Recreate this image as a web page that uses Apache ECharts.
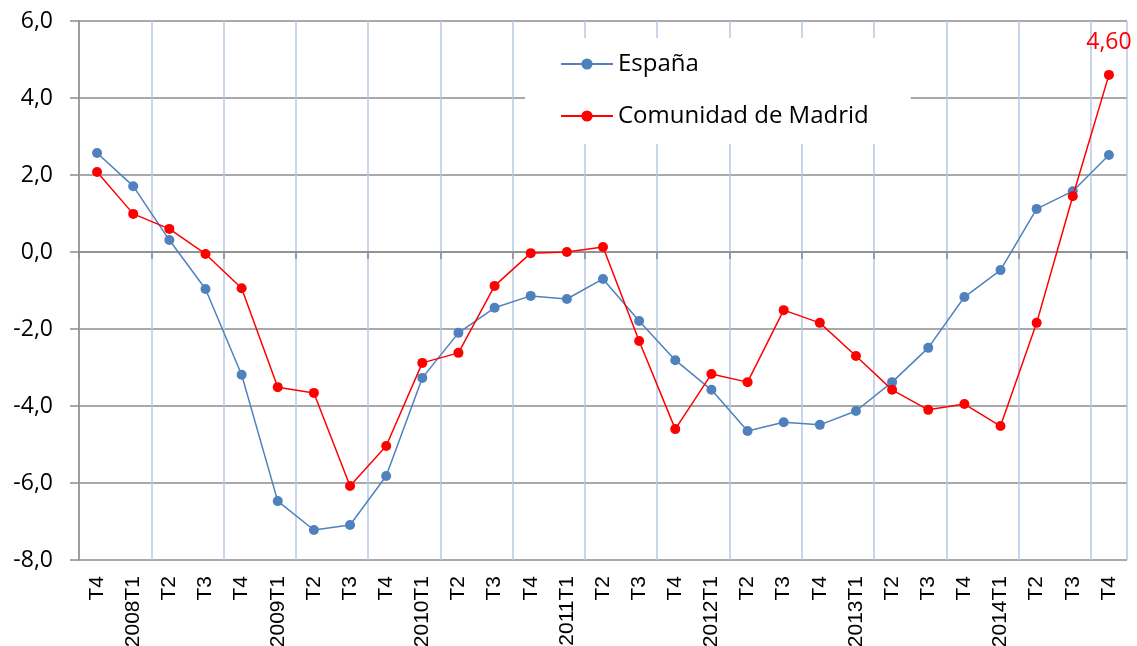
<!DOCTYPE html>
<html>
<head>
<meta charset="utf-8">
<script src="https://cdn.jsdelivr.net/npm/echarts@6/dist/echarts.min.js"></script>
<style>
  html, body { margin: 0; padding: 0; background: #fff; }
  #chart { width: 1137px; height: 646px; }
</style>
</head>
<body>
<div id="chart"></div>
<script>
var categories = ['T4', '2008T1', 'T2', 'T3', 'T4', '2009T1', 'T2', 'T3', 'T4',
  '2010T1', 'T2', 'T3', 'T4', '2011T1', 'T2', 'T3', 'T4', '2012T1', 'T2', 'T3', 'T4',
  '2013T1', 'T2', 'T3', 'T4', '2014T1', 'T2', 'T3', 'T4'];

var espana = [2.57, 1.71, 0.31, -0.96, -3.19, -6.47, -7.22, -7.09, -5.82,
  -3.27, -2.10, -1.45, -1.14, -1.22, -0.70, -1.79, -2.81, -3.58, -4.65, -4.42, -4.49,
  -4.13, -3.38, -2.49, -1.17, -0.47, 1.12, 1.58, 2.52];

var madrid = [2.08, 0.99, 0.60, -0.05, -0.94, -3.51, -3.66, -6.08, -5.04,
  -2.88, -2.62, -0.88, -0.03, 0.00, 0.13, -2.31, -4.60, -3.17, -3.38, -1.51, -1.84,
  -2.70, -3.58, -4.10, -3.95, -4.52, -1.84, 1.45, 4.60];

var seriesNames = ['España', 'Comunidad de Madrid'];

var fmtComma = function(v, d) {
  return v.toFixed(d).replace('.', ',');
};

// only the last Madrid point carries a label
var madridData = madrid.map(function(v, i) {
  if (i === madrid.length - 1) {
    return {
      value: v,
      label: {
        show: true,
        position: 'top',
        distance: 16,
        color: '#ff0000',
        fontFamily: 'Open Sans',
        fontSize: 23,
        formatter: function(p) { return fmtComma(p.value, 2); }
      }
    };
  }
  return v;
});

var myChart = echarts.init(document.getElementById('chart'));

var option = {
  animation: false,
  backgroundColor: '#fff',
  grid: {
    left: 79,
    right: 10,
    top: 21,
    bottom: 86,
    containLabel: false,
    outerBoundsMode: 'none'
  },
  legend: {
    data: seriesNames,
    orient: 'vertical',
    left: 525,
    top: 38,
    backgroundColor: '#fff',
    padding: [12, 42, 14, 35],
    itemGap: 24,
    itemWidth: 52,
    itemHeight: 14,
    textStyle: {
      fontFamily: 'Open Sans',
      fontSize: 24,
      color: '#000',
      lineHeight: 28
    }
  },
  xAxis: {
    type: 'category',
    data: categories,
    boundaryGap: true,
    axisLine: { show: true, lineStyle: { color: '#8c8c8c', width: 1.5 } },
    axisTick: { show: true, interval: 1, length: 7, lineStyle: { color: '#8c8c8c', width: 1.5 } },
    splitLine: { show: true, interval: 1, lineStyle: { color: '#b4c7e7', width: 1.5 } },
    axisLabel: {
      interval: 0,
      rotate: 90,
      margin: 16,
      fontFamily: 'Liberation Sans',
      fontSize: 21,
      color: '#000'
    }
  },
  yAxis: {
    type: 'value',
    min: -8,
    max: 6,
    interval: 2,
    axisLine: { show: true, lineStyle: { color: '#8c8c8c', width: 1.5 } },
    axisTick: { show: true, length: 9, lineStyle: { color: '#8c8c8c', width: 1.5 } },
    splitLine: { show: true, lineStyle: { color: '#8c8c8c', width: 1.5 } },
    axisLabel: {
      margin: 26,
      fontFamily: 'Open Sans',
      fontSize: 23,
      color: '#000',
      formatter: function(v) { return fmtComma(v, 1); }
    }
  },
  series: [
    {
      name: seriesNames[0],
      type: 'line',
      data: espana,
      symbol: 'circle',
      symbolSize: 10,
      color: '#4f81bd',
      lineStyle: { width: 1.5, color: '#4f81bd' },
      itemStyle: { color: '#4f81bd' },
      z: 3
    },
    {
      name: seriesNames[1],
      type: 'line',
      data: madridData,
      symbol: 'circle',
      symbolSize: 10,
      color: '#ff0000',
      lineStyle: { width: 1.5, color: '#ff0000' },
      itemStyle: { color: '#ff0000' },
      z: 4
    }
  ]
};

myChart.setOption(option);
</script>
</body>
</html>
